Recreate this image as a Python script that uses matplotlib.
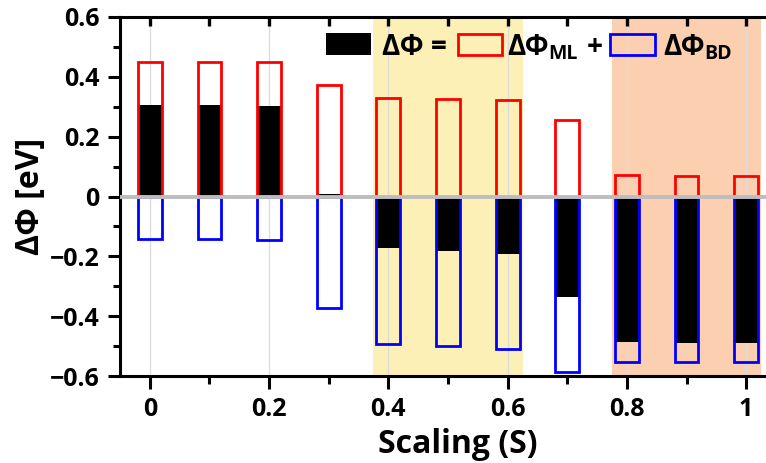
import numpy as np
import matplotlib
matplotlib.use('Agg')
import matplotlib.pyplot as plt
from matplotlib.patches import Rectangle

plt.rcParams['font.family'] = ['Open Sans', 'DejaVu Sans']
plt.rcParams['font.weight'] = 'bold'

# valores
scaling = [0.0, 0.1, 0.2, 0.3, 0.4, 0.5, 0.6, 0.7, 0.8, 0.9, 1.0]
dphi_ml = [0.449, 0.449, 0.449, 0.374, 0.329, 0.327, 0.322, 0.255, 0.071, 0.067, 0.067]
dphi_bd = [-0.142, -0.142, -0.145, -0.373, -0.493, -0.500, -0.511, -0.586, -0.553, -0.553, -0.553]
dphi_total = [0.307, 0.307, 0.303, 0.007, -0.173, -0.183, -0.193, -0.335, -0.487, -0.491, -0.491]

W, H = 766, 463
fig = plt.figure(figsize=(W / 100, H / 100), dpi=100)
ax = fig.add_axes([120 / W, 87 / H, 656 / W, 359 / H])

# zonas sombreadas
ax.axvspan(0.375, 0.625, color='#fdf0b6', lw=0, zorder=0)
ax.axvspan(0.775, 1.025, color='#fccfb1', lw=0, zorder=0)

for xv in np.arange(0, 1.01, 0.2):
    ax.axvline(xv, color='#dcdcdc', lw=1, zorder=0.5)

bw = 0.04
ax.bar(scaling, dphi_total, width=bw, color='black', lw=0, zorder=2)
ax.bar(scaling, dphi_ml, width=bw, facecolor='none', edgecolor='red', lw=2.0, zorder=3)
ax.bar(scaling, dphi_bd, width=bw, facecolor='none', edgecolor='blue', lw=2.0, zorder=3)
ax.axhline(0, color='#bdbdbd', lw=2.8, zorder=4)

ax.set_xlim(-0.05, 1.05)
ax.set_ylim(-0.6, 0.6)
ax.set_xticks([0, 0.2, 0.4, 0.6, 0.8, 1.0])
ax.set_xticklabels(['0', '0.2', '0.4', '0.6', '0.8', '1'])
ax.set_xticks(np.arange(0, 1.01, 0.1), minor=True)
ax.set_yticks([-0.6, -0.4, -0.2, 0, 0.2, 0.4, 0.6])
ax.set_yticklabels(['\u22120.6', '\u22120.4', '\u22120.2', '0', '0.2', '0.4', '0.6'])
ax.set_yticks(np.arange(-0.6, 0.61, 0.1), minor=True)

for s in ax.spines.values():
    s.set_linewidth(2.2)
ax.spines['right'].set_visible(False)

ax.tick_params(axis='both', which='major', width=2.2, labelsize=18, pad=6)
ax.tick_params(axis='x', which='major', length=9, direction='out')
ax.tick_params(axis='x', which='minor', length=6, width=2.2, direction='out')
ax.tick_params(axis='y', which='major', length=9, direction='out')
ax.tick_params(axis='y', which='minor', length=5, width=2.2, direction='out')

# marcas superiores hacia dentro
ax.vlines(scaling, 0.6 - 0.03, 0.6, colors='black', lw=2.4, zorder=5)

ax.set_xlabel('Scaling (S)', fontsize=23, fontweight='bold')
ax.xaxis.set_label_coords(0.515, -0.145)
ax.xaxis.label.set_va('top')
ax.set_ylabel('\u0394\u03a6 [eV]', fontsize=23, fontweight='bold', labelpad=2)

# leyenda manual
def fx(px):
    return px / W

def fy(py):
    return 1 - py / H

fig.patches.append(Rectangle((fx(326), fy(55)), 45 / W, 22 / H, transform=fig.transFigure,
                             facecolor='black', edgecolor='black', lw=0))
fig.text(fx(382), fy(55), '\u0394\u03a6 =', fontsize=20, fontweight='bold', va='baseline')
fig.patches.append(Rectangle((fx(458), fy(55)), 44 / W, 21 / H, transform=fig.transFigure,
                             facecolor='none', edgecolor='red', lw=2.0))
fig.text(fx(507), fy(55), '\u0394\u03a6', fontsize=20, fontweight='bold', va='baseline')
fig.text(fx(548), fy(59), 'ML', fontsize=14, fontweight='bold', va='baseline')
fig.text(fx(587), fy(55), '+', fontsize=20, fontweight='bold', va='baseline')
fig.patches.append(Rectangle((fx(610), fy(55)), 45 / W, 21 / H, transform=fig.transFigure,
                             facecolor='none', edgecolor='blue', lw=2.0))
fig.text(fx(663), fy(55), '\u0394\u03a6', fontsize=20, fontweight='bold', va='baseline')
fig.text(fx(704), fy(59), 'BD', fontsize=14, fontweight='bold', va='baseline')

fig.savefig('out.png', dpi=100)
